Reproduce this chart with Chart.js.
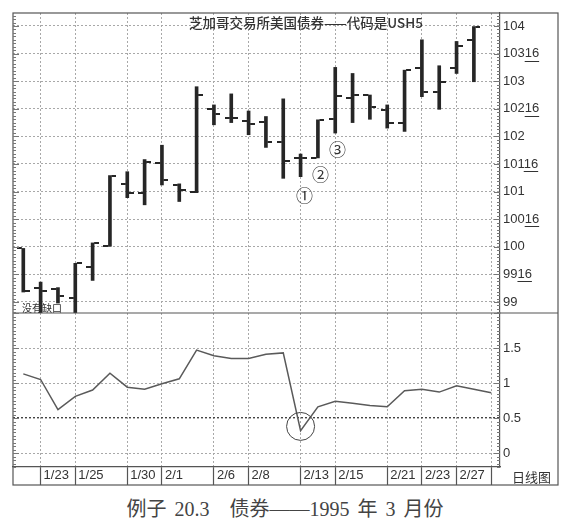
<!DOCTYPE html>
<html>
<head>
<meta charset="utf-8">
<script src="https://cdn.jsdelivr.net/npm/chart.js@4.4.1/dist/chart.umd.min.js"></script>
<style>
body{margin:0;background:#fff;width:570px;height:529px;overflow:hidden;position:relative;font-family:"Noto Sans CJK SC",sans-serif;}
#bond_chart{position:absolute;left:0;top:0;}
.note{position:absolute;white-space:nowrap;color:#333;}
</style>
</head>
<body>
<canvas id="bond_chart" width="570" height="492"></canvas>
<div class="note" style="left:189px;top:14px;font-size:13.5px;line-height:17px;font-weight:500;">芝加哥交易所美国债券——代码是USH5</div>
<div class="note" style="left:22px;top:302px;font-size:10px;line-height:12px;">没有缺口</div>
<div class="note" style="left:296px;top:186px;font-size:17px;line-height:18px;">①</div>
<div class="note" style="left:312px;top:165px;font-size:17px;line-height:18px;">②</div>
<div class="note" style="left:329px;top:140px;font-size:17px;line-height:18px;">③</div>
<div class="note" style="left:512px;top:468px;font-size:13px;line-height:17px;">日线图</div>
<div class="note" style="left:0;width:570px;text-align:center;top:497px;font-size:20px;line-height:24px;color:#444;word-spacing:3px;font-family:'Liberation Serif','Noto Sans CJK SC',serif;">例子 20.3　债券——1995 年 3 月份</div>

<script>
// trading days, 1/20 .. 3/1 (last slot only has the indicator value)
var dates = ['1/20','1/23','1/24','1/25','1/26','1/27','1/30','1/31','2/1','2/2','2/3',
             '2/6','2/7','2/8','2/9','2/10','2/13','2/14','2/15','2/16','2/17',
             '2/21','2/22','2/23','2/24','2/27','2/28','3/1'];

var open_p  = [99.97, 99.26, 99.24, 99.08, 99.64, 100.01, 101.14, 100.98, 101.52, 101.12, 100.99,
               102.50, 102.34, 102.28, 102.26, 101.90, 101.61, 101.61, 102.31, 102.69, 102.75,
               102.48, 102.24, 103.23, 102.81, 103.23, 103.75];
var high_p  = [99.97, 99.36, 99.26, 99.70, 100.07, 101.29, 101.36, 101.58, 101.84, 101.14, 102.90,
               102.57, 102.77, 102.46, 102.36, 102.68, 101.68, 102.30, 103.25, 103.14, 102.75,
               102.57, 103.20, 103.75, 103.28, 103.72, 103.99];
var low_p   = [99.18, 98.70, 98.98, 98.70, 99.39, 100.01, 100.89, 100.76, 101.12, 100.82, 100.98,
               102.21, 102.25, 102.03, 101.80, 101.24, 101.27, 101.61, 102.06, 102.25, 102.31,
               102.15, 102.09, 102.72, 102.49, 103.14, 102.99];
var close_p = [99.20, 99.20, 99.11, 99.70, 100.07, 101.28, 100.98, 101.53, 101.21, 101.03, 102.75,
               102.40, 102.33, 102.22, 101.90, 101.55, 101.61, 102.30, 102.73, 102.75, 102.54,
               102.25, 103.20, 102.81, 102.99, 103.64, 103.99];

var indicator = [1.13, 1.05, 0.62, 0.81, 0.90, 1.14, 0.94, 0.91, 0.99, 1.06, 1.47,
                 1.39, 1.35, 1.35, 1.41, 1.43, 0.32, 0.66, 0.74, 0.71, 0.68,
                 0.66, 0.89, 0.91, 0.87, 0.96, 0.91, 0.86];

var date_ticks = ['1/23','1/25','1/30','2/1','2/6','2/8','2/13','2/15','2/21','2/23','2/27','3/1'];
var date_labels = ['1/23','1/25','1/30','2/1','2/6','2/8','2/13','2/15','2/21','2/23','2/27',''];
var price_ticks = [99, 99.5, 100, 100.5, 101, 101.5, 102, 102.5, 103, 103.5, 104];
var indicator_ticks = [0, 0.5, 1, 1.5];
var circled_day = '2/13';

var label_font = {family: 'Liberation Sans, Arial, sans-serif', size: 13};

function make_tick(side){
    var c = document.createElement('canvas');
    c.width = 13; c.height = 2;
    var g = c.getContext('2d');
    g.fillStyle = '#262626';
    if(side == 'left') g.fillRect(0, 0, 5, 2);
    else g.fillRect(8, 0, 5, 2);
    return c;
}

var bar_data = [], open_data = [], close_data = [], ind_data = [];
for(var i = 0; i < open_p.length; i++){
    bar_data.push({x: i, y: [low_p[i], high_p[i]]});
    open_data.push({x: i, y: open_p[i]});
    close_data.push({x: i, y: close_p[i]});
}
for(var k = 0; k < indicator.length; k++){
    ind_data.push({x: k, y: indicator[k]});
}

var frame_plugin = {
    id: 'frame',
    afterDraw: function(chart){
        var ctx = chart.ctx, a = chart.chartArea;
        var ys = chart.scales.y, y2 = chart.scales.y2, xs = chart.scales.x;
        ctx.save();
        ctx.strokeStyle = '#555';
        ctx.lineWidth = 1.2;
        ctx.strokeRect(a.left, a.top, ys.right - a.left, xs.bottom - a.top);
        ctx.beginPath();
        ctx.moveTo(a.left, ys.bottom);
        ctx.lineTo(ys.right, ys.bottom);
        ctx.stroke();

        // small ticks on both sides of each panel
        ctx.lineWidth = 1;
        ctx.strokeStyle = '#777';
        [[ys, 1/16, 8], [y2, 0.05, 10]].forEach(function(s){
            var sc = s[0], step = s[1];
            var n0 = Math.ceil(sc.min / step), n1 = Math.floor(sc.max / step);
            for(var n = n0; n <= n1; n++){
                var py = Math.round(sc.getPixelForValue(n * step)) + 0.5;
                var len = (n % s[2] == 0) ? 6 : 3;
                ctx.beginPath();
                ctx.moveTo(a.left, py); ctx.lineTo(a.left + len, py);
                ctx.moveTo(a.right - len, py); ctx.lineTo(a.right, py);
                ctx.stroke();
            }
        });

        // underline the "16" of half-point labels
        ctx.font = label_font.size + 'px ' + label_font.family;
        ctx.strokeStyle = '#333';
        ys.ticks.forEach(function(t){
            if(t.value % 1 == 0) return;
            var txt = t.label, x0 = ys.left + 3;
            var full = ctx.measureText(txt).width, part = ctx.measureText('16').width;
            var py = Math.round(ys.getPixelForValue(t.value) + 7) + 0.5;
            ctx.beginPath();
            ctx.moveTo(x0 + full - part, py); ctx.lineTo(x0 + full, py);
            ctx.stroke();
        });

        // circle round the low reading
        var ci = dates.indexOf(circled_day);
        ctx.strokeStyle = '#444';
        ctx.beginPath();
        ctx.arc(xs.getPixelForValue(ci), y2.getPixelForValue(indicator[ci] + 0.06), 14, 0, Math.PI * 2);
        ctx.stroke();
        ctx.restore();
    }
};

var bond_chart = new Chart(document.getElementById('bond_chart'), {
    type: 'bar',
    data: {
        datasets: [
            {
                type: 'bar', yAxisID: 'y', data: bar_data,
                backgroundColor: '#262626', barThickness: 3, borderWidth: 0, grouped: false
            },
            {
                type: 'line', yAxisID: 'y', data: open_data, showLine: false,
                pointStyle: make_tick('left'), pointRadius: 3
            },
            {
                type: 'line', yAxisID: 'y', data: close_data, showLine: false,
                pointStyle: make_tick('right'), pointRadius: 3
            },
            {
                type: 'line', yAxisID: 'y2', data: ind_data,
                borderColor: '#5a5a5a', borderWidth: 1.5, pointRadius: 0, tension: 0, fill: false
            }
        ]
    },
    options: {
        responsive: false,
        animation: false,
        events: [],
        layout: {padding: {left: 13, top: 13, right: 12, bottom: 7}},
        plugins: {legend: {display: false}, tooltip: {enabled: false}},
        scales: {
            x: {
                type: 'linear', min: -0.594, max: 27.507, offset: false,
                afterBuildTicks: function(scale){
                    scale.ticks = date_ticks.map(function(d){ return {value: dates.indexOf(d)}; });
                },
                afterFit: function(scale){ scale.height = 18; },
                ticks: {
                    autoSkip: false, maxRotation: 0, align: 'start', labelOffset: 3, padding: -17,
                    color: '#333', font: label_font,
                    callback: function(v){ return date_labels[date_ticks.indexOf(dates[v])]; }
                },
                grid: {offset: false, color: '#a8a8a8', lineWidth: 1, tickLength: 18, tickColor: '#555', tickWidth: 1.2},
                border: {color: '#555', width: 1.2, dash: [2, 2]}
            },
            y: {
                position: 'right', stack: 'panel', stackWeight: 300,
                min: 98.8, max: 104.2355, beginAtZero: false,
                afterBuildTicks: function(scale){
                    scale.ticks = price_ticks.map(function(v){ return {value: v}; });
                },
                afterFit: function(scale){ scale.width = 58; },
                ticks: {
                    autoSkip: false, padding: 3, color: '#333', font: label_font,
                    callback: function(v){ return Math.floor(v) + (v % 1 ? '16' : ''); }
                },
                grid: {color: '#a8a8a8', lineWidth: 1, drawTicks: false},
                border: {color: '#555', width: 1.2, dash: [2, 2]}
            },
            y2: {
                position: 'right', stack: 'panel', stackWeight: 154,
                min: -0.2, max: 2.0, beginAtZero: false,
                afterBuildTicks: function(scale){
                    scale.ticks = indicator_ticks.map(function(v){ return {value: v}; });
                },
                afterFit: function(scale){ scale.width = 58; },
                ticks: {
                    autoSkip: false, padding: 3, color: '#333', font: label_font,
                    callback: function(v){ return String(v); }
                },
                grid: {
                    drawTicks: false,
                    color: function(c){ return c.tick && c.tick.value === 0.5 ? '#444' : '#a8a8a8'; },
                    lineWidth: function(c){ return c.tick && c.tick.value === 0.5 ? 1.4 : 1; }
                },
                border: {color: '#555', width: 1.2, dash: [2, 2]}
            }
        }
    },
    plugins: [frame_plugin]
});
</script>
</body>
</html>
